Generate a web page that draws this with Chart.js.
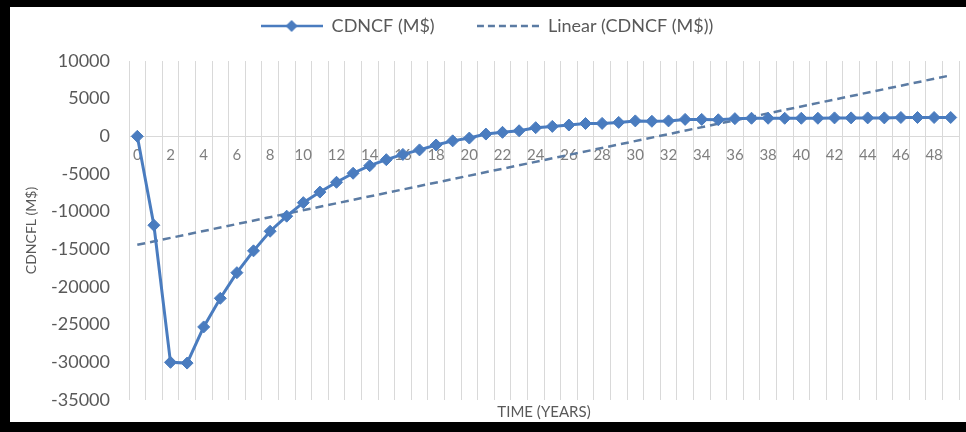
<!DOCTYPE html>
<html lang="en">
<head>
<meta charset="UTF-8">
<title>CDNCF chart</title>
<script src="https://cdn.jsdelivr.net/npm/chart.js@4.4.1/dist/chart.umd.min.js"></script>
<style>
  body { margin: 0; background: #fff; }
  #frame {
    width: 956px; height: 415px; background: #fff;
    border-left: 10px solid #000; border-top: 7px solid #000; border-bottom: 10px solid #000;
  }
  canvas { display: block; }
</style>
</head>
<body>
<div id="frame">
  <canvas id="canvas" width="956" height="415"></canvas>
</div>

<script>
// years on the x axis
var years = [0, 1, 2, 3, 4, 5, 6, 7, 8, 9,
  10, 11, 12, 13, 14, 15, 16, 17, 18, 19,
  20, 21, 22, 23, 24, 25, 26, 27, 28, 29,
  30, 31, 32, 33, 34, 35, 36, 37, 38, 39,
  40, 41, 42, 43, 44, 45, 46, 47, 48, 49];

// CDNCF (M$)
var cdncf = [0, -11800, -30000, -30100, -25300, -21500, -18100, -15200, -12600, -10600,
  -8800, -7400, -6100, -4900, -3900, -3100, -2400, -1800, -1150, -600,
  -230, 300, 530, 740, 1150, 1320, 1500, 1700, 1720, 1850,
  2050, 2000, 2050, 2250, 2250, 2200, 2350, 2400, 2400, 2400,
  2400, 2400, 2450, 2450, 2450, 2450, 2500, 2500, 2500, 2500];

// linear trendline ends (at year 0 and year 49)
var trendStart = -14400;
var trendEnd = 8100;

var yTicks = { min: -35000, max: 10000, step: 5000 };

var lineColor = '#4a7cbf';
var trendColor = '#5b7ba3';
var gridColor = '#d9d9d9';
var textColor = '#595959';

var trendline = years.map(function(v, i) {
  if (i === 0) return trendStart;
  if (i === years.length - 1) return trendEnd;
  return null;
});

// legend icons (line + diamond, dashed line)
function legendIcon(dashed) {
  var c = document.createElement('canvas');
  c.width = 62; c.height = 14;
  var g = c.getContext('2d');
  g.strokeStyle = dashed ? trendColor : lineColor;
  g.lineWidth = 2.5;
  if (dashed) g.setLineDash([7, 4]);
  g.beginPath(); g.moveTo(0, 7); g.lineTo(62, 7); g.stroke();
  if (!dashed) {
    g.fillStyle = lineColor;
    g.beginPath();
    g.moveTo(31, 1); g.lineTo(37, 7); g.lineTo(31, 13); g.lineTo(25, 7);
    g.closePath(); g.fill();
  }
  return c;
}

window.onload = function() {
  var ctx = document.getElementById('canvas').getContext('2d');
  window.myChart = new Chart(ctx, {
    type: 'line',
    data: {
      labels: years,
      datasets: [
        {
          label: 'CDNCF (M$)',
          data: cdncf,
          borderColor: lineColor,
          backgroundColor: lineColor,
          borderWidth: 3,
          pointStyle: 'rectRot',
          pointRadius: 6,
          pointBorderWidth: 1,
          pointBackgroundColor: lineColor,
          tension: 0,
          fill: false
        },
        {
          label: 'Linear (CDNCF (M$))',
          data: trendline,
          borderColor: trendColor,
          borderWidth: 2.5,
          borderDash: [8, 5],
          pointRadius: 0,
          spanGaps: true,
          fill: false
        }
      ]
    },
    options: {
      responsive: false,
      animation: false,
      layout: { padding: { left: 0, right: 2, top: 0, bottom: 0 } },
      plugins: {
        legend: {
          position: 'top',
          labels: {
            usePointStyle: true,
            pointStyleWidth: 62,
            padding: 10,
            color: textColor,
            font: { family: 'Lato', size: 18 },
            generateLabels: function(chart) {
              return chart.data.datasets.map(function(ds, i) {
                return {
                  // extra spaces widen the gap between the two entries
                  text: i === 0 ? ds.label + '       ' : ds.label,
                  pointStyle: legendIcon(i === 1),
                  fillStyle: ds.borderColor,
                  strokeStyle: ds.borderColor,
                  lineWidth: 0,
                  fontColor: textColor,
                  datasetIndex: i
                };
              });
            }
          }
        },
        // empty title used as a gap between legend and plot
        title: {
          display: true,
          text: '',
          weight: 500,
          padding: 0,
          font: { size: 16, lineHeight: 1 }
        },
        tooltip: { enabled: false }
      },
      scales: {
        x: {
          type: 'category',
          offset: true,
          grid: { offset: true, color: gridColor, drawTicks: false },
          border: { display: false },
          ticks: { display: false },
          title: {
            display: true,
            text: 'TIME (YEARS)',
            color: textColor,
            font: { family: 'Lato', size: 15, lineHeight: 1.2 },
            padding: { top: 3, bottom: 1 }
          }
        },
        x2: {
          type: 'category',
          axis: 'x',
          position: { y: 0 },
          offset: true,
          grid: { display: false, drawTicks: false },
          border: { display: false },
          ticks: {
            autoSkip: false,
            maxRotation: 0,
            padding: 10,
            color: '#7f7f7f',
            font: { family: 'Lato', size: 15 },
            callback: function(val, i) {
              return i % 2 === 0 ? this.getLabelForValue(val) : '';
            }
          }
        },
        y: {
          min: yTicks.min,
          max: yTicks.max,
          border: { display: false },
          grid: {
            drawTicks: false,
            color: function(c) { return c.tick && c.tick.value === 0 ? gridColor : 'rgba(0,0,0,0)'; }
          },
          ticks: {
            stepSize: yTicks.step,
            padding: 19,
            color: textColor,
            font: { family: 'Lato', size: 18 },
            callback: function(v) { return String(v); }
          },
          title: {
            display: true,
            text: 'CDNCFL (M$)',
            color: textColor,
            font: { family: 'Lato', size: 14, lineHeight: 1.2 },
            padding: { top: 13, bottom: 0 }
          },
          afterFit: function(scale) {
            scale.width = 119;
            scale.paddingTop = 0;
            scale.paddingBottom = 0;
          }
        }
      }
    }
  });
};
</script>
</body>
</html>
